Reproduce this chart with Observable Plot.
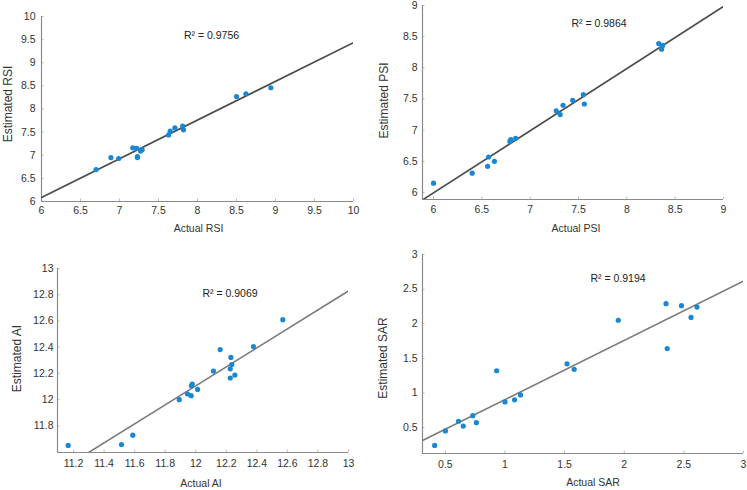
<!DOCTYPE html>
<html><head><meta charset="utf-8">
<script src="https://cdn.jsdelivr.net/npm/d3@7"></script>
<script src="https://cdn.jsdelivr.net/npm/@observablehq/plot@0.6"></script>
<style>
body{margin:0;background:#fff;}
#wrap{position:relative;width:747px;height:490px;font-family:"Liberation Sans",Arial,sans-serif;overflow:hidden;}
.panel{position:absolute;}
.panel svg{overflow:visible;}
</style></head><body><div id="wrap"></div>
<script>
// ---- data ----
const rsiActual    = [6.70, 6.89, 6.99, 7.17, 7.22, 7.23, 7.23, 7.27, 7.29, 7.63, 7.65, 7.71, 7.81, 7.82, 8.50, 8.62, 8.94];
const rsiEstimated = [6.69, 6.95, 6.93, 7.16, 7.15, 6.97, 6.95, 7.09, 7.12, 7.44, 7.52, 7.59, 7.63, 7.55, 8.27, 8.33, 8.46];

const psiActual    = [6.00, 6.40, 6.56, 6.57, 6.63, 6.79, 6.80, 6.85, 7.27, 7.31, 7.34, 7.44, 7.55, 7.56, 8.33, 8.36, 8.37];
const psiEstimated = [6.15, 6.31, 6.42, 6.57, 6.50, 6.82, 6.85, 6.87, 7.31, 7.25, 7.40, 7.48, 7.57, 7.42, 8.39, 8.30, 8.36];

const aiActual    = [11.165, 11.514, 11.588, 11.892, 11.946, 11.970, 11.972, 11.977, 12.012, 12.116, 12.160, 12.226, 12.226, 12.230, 12.236, 12.256, 12.378, 12.570];
const aiEstimated = [11.651, 11.658, 11.729, 12.000, 12.043, 12.030, 12.106, 12.119, 12.078, 12.218, 12.382, 12.165, 12.235, 12.322, 12.268, 12.187, 12.405, 12.610];

const sarActual    = [0.41, 0.50, 0.61, 0.65, 0.73, 0.76, 0.93, 1.00, 1.08, 1.13, 1.52, 1.58, 1.95, 2.35, 2.36, 2.48, 2.56, 2.61];
const sarEstimated = [0.24, 0.45, 0.59, 0.52, 0.67, 0.57, 1.32, 0.87, 0.90, 0.97, 1.42, 1.34, 2.05, 2.29, 1.64, 2.26, 2.09, 2.24];

const r2Labels = ["R² = 0.9756", "R² = 0.9864", "R² = 0.9069", "R² = 0.9194"];
const xTitles = ["Actual RSI", "Actual PSI", "Actual AI", "Actual SAR"];
const yTitles = ["Estimated RSI", "Estimated PSI", "Estimated AI", "Estimated SAR"];

const rsiTicks = [6, 6.5, 7, 7.5, 8, 8.5, 9, 9.5, 10];
const psiTicks = [6, 6.5, 7, 7.5, 8, 8.5, 9];
const aiXTicks = [11.2, 11.4, 11.6, 11.8, 12, 12.2, 12.4, 12.6, 12.8, 13];
const aiYTicks = [11.8, 12, 12.2, 12.4, 12.6, 12.8, 13];
const sarTicks = [0.5, 1, 1.5, 2, 2.5, 3];

// ---- drawing ----
const fmt = d => String(+d.toFixed(2));
const font = '"Liberation Sans", Arial, sans-serif';

function panel(o) {
  const pts = o.actual.map((a, i) => ({a, e: o.estimated[i]}));
  const mx = d3.mean(o.actual), my = d3.mean(o.estimated);
  const slope = d3.sum(pts, p => (p.a - mx) * (p.e - my)) / d3.sum(pts, p => (p.a - mx) ** 2);
  const icpt = my - slope * mx;
  const fit = o.xDomain.map(x => ({a: x, e: icpt + slope * x}));
  const svg = Plot.plot({
    width: o.width, height: o.height,
    marginLeft: o.m[0], marginRight: o.m[1], marginTop: o.m[2], marginBottom: o.m[3],
    style: {fontFamily: font, fontSize: "10.5px", color: "#333", background: "transparent"},
    x: {domain: o.xDomain},
    y: {domain: o.yDomain},
    marks: [
      Plot.axisX({ticks: o.xTicks, tickSize: 0, tickPadding: o.xPad, tickFormat: fmt, label: null, fill: "#333"}),
      Plot.axisY({ticks: o.yTicks, tickSize: 0, tickPadding: o.yPad, tickFormat: fmt, label: null, fill: "#333"}),
      Plot.axisX({ticks: o.xTicks, tickSize: -2.5, tickFormat: () => "", label: null, stroke: "#bbb"}),
      Plot.axisY({ticks: o.yTicks, tickSize: -2.5, tickFormat: () => "", label: null, stroke: "#bbb"}),
      Plot.ruleX([o.xDomain[0]], {stroke: "#8a8a8a", strokeWidth: 1.2}),
      Plot.ruleY([o.yDomain[0]], {stroke: "#8a8a8a", strokeWidth: 1.2}),
      Plot.line(fit, {x: "a", y: "e", stroke: o.lineColor, strokeWidth: 1.6, clip: true}),
      Plot.dot(pts, {x: "a", y: "e", r: 2.6, fill: "#1a87d2"}),
      Plot.text([o.r2], {frameAnchor: "top", dx: o.r2d[0], dy: o.r2d[1], lineAnchor: "middle", textAnchor: "middle", fontSize: 10.5, fill: "#222"}),
      Plot.text([o.xTitle], {frameAnchor: "bottom", dx: o.xt[0], dy: o.xt[1], lineAnchor: "middle", textAnchor: "middle", fontSize: 10.5, fill: "#333"}),
      Plot.text([o.yTitle], {frameAnchor: "left", dx: o.yt[0], dy: o.yt[1], rotate: -90, lineAnchor: "middle", textAnchor: "middle", fontSize: 12, fill: "#333"})
    ]
  });
  const div = document.createElement("div");
  div.className = "panel";
  div.style.left = o.left + "px";
  div.style.top = o.top + "px";
  div.appendChild(svg);
  document.getElementById("wrap").appendChild(div);
}

panel({left: 0, top: 0, width: 373, height: 245, m: [41, 20, 16, 44],
  actual: rsiActual, estimated: rsiEstimated, xDomain: [6, 10], yDomain: [6, 10],
  xTicks: rsiTicks, yTicks: rsiTicks, xPad: 5, yPad: 6, lineColor: "#4a4a4a",
  r2: r2Labels[0], r2d: [14, 19], xTitle: xTitles[0], xt: [1, 27], yTitle: yTitles[0], yt: [-33, -5]});

panel({left: 373, top: 0, width: 374, height: 245, m: [49, 24, 5, 46],
  actual: psiActual, estimated: psiEstimated, xDomain: [5.886, 9], yDomain: [5.888, 9],
  xTicks: psiTicks, yTicks: psiTicks, xPad: 6, yPad: 5, lineColor: "#4a4a4a",
  r2: r2Labels[1], r2d: [26, 18], xTitle: xTitles[1], xt: [3, 29], yTitle: yTitles[1], yt: [-38, -2]});

panel({left: 0, top: 245, width: 373, height: 245, m: [57, 25, 23, 38],
  actual: aiActual, estimated: aiEstimated, xDomain: [11.095, 13], yDomain: [11.597, 13],
  xTicks: aiXTicks, yTicks: aiYTicks, xPad: 7, yPad: 4, lineColor: "#7a7a7a",
  r2: r2Labels[2], r2d: [27, 25], xTitle: xTitles[2], xt: [-2, 31], yTitle: yTitles[2], yt: [-40, -2]});

panel({left: 373, top: 245, width: 374, height: 245, m: [49, 4, 9, 37],
  actual: sarActual, estimated: sarEstimated, xDomain: [0.308, 3], yDomain: [0.124, 3],
  xTicks: sarTicks, yTicks: sarTicks, xPad: 7, yPad: 5, lineColor: "#7a7a7a",
  r2: r2Labels[3], r2d: [35, 24], xTitle: xTitles[3], xt: [10, 29], yTitle: yTitles[3], yt: [-39, 4]});
</script>
</body></html>
